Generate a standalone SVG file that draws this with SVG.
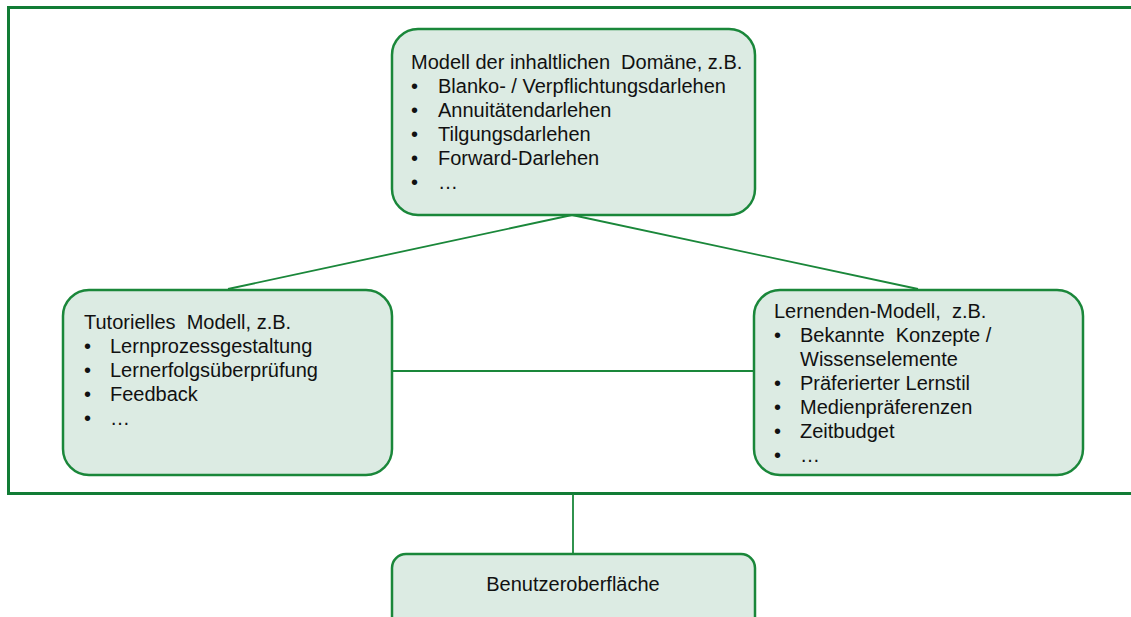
<svg xmlns="http://www.w3.org/2000/svg" width="1131" height="617" viewBox="0 0 1131 617">
  <style>
    .box { fill: #dcebe3; stroke: #1a873a; stroke-width: 2.5; }
    .frame { fill: none; stroke: #117c35; stroke-width: 3; }
    .link { fill: none; stroke: #1a873a; stroke-width: 1.8; }
    text { font-family: "Liberation Sans", Arial, sans-serif; font-size: 20px; fill: #111; white-space: pre; }
  </style>
  <rect width="1131" height="617" fill="#ffffff"/>
  <!-- outer system boundary (right edge runs past the canvas) -->
  <rect class="frame" x="8.5" y="7.5" width="1140" height="486"/>

  <g id="connectors">
    <line class="link" x1="572" y1="215" x2="228" y2="289"/>
    <line class="link" x1="572" y1="215" x2="918" y2="289"/>
    <line class="link" x1="392" y1="371" x2="754" y2="371"/>
    <line class="link" x1="573" y1="494" x2="573" y2="554"/>
  </g>

  <g id="domain-model">
    <rect class="box" x="392" y="29" width="363" height="186" rx="26"/>
    <text x="411" y="69">Modell der inhaltlichen  Domäne, z.B.</text>
    <text x="411" y="93">•</text><text x="438" y="93">Blanko- / Verpflichtungsdarlehen</text>
    <text x="411" y="117">•</text><text x="438" y="117">Annuitätendarlehen</text>
    <text x="411" y="141">•</text><text x="438" y="141">Tilgungsdarlehen</text>
    <text x="411" y="165">•</text><text x="438" y="165">Forward-Darlehen</text>
    <text x="411" y="189">•</text><text x="438" y="189">…</text>
  </g>

  <g id="tutorial-model">
    <rect class="box" x="63" y="290" width="329" height="185" rx="26"/>
    <text x="84" y="329">Tutorielles  Modell, z.B.</text>
    <text x="84" y="353">•</text><text x="110" y="353">Lernprozessgestaltung</text>
    <text x="84" y="377">•</text><text x="110" y="377">Lernerfolgsüberprüfung</text>
    <text x="84" y="401">•</text><text x="110" y="401">Feedback</text>
    <text x="84" y="425">•</text><text x="110" y="425">…</text>
  </g>

  <g id="learner-model">
    <rect class="box" x="754" y="290" width="329" height="185" rx="26"/>
    <text x="774" y="318">Lernenden-Modell,  z.B.</text>
    <text x="774" y="342">•</text><text x="800" y="342">Bekannte  Konzepte /</text>
    <text x="800" y="366">Wissenselemente</text>
    <text x="774" y="390">•</text><text x="800" y="390">Präferierter Lernstil</text>
    <text x="774" y="414">•</text><text x="800" y="414">Medienpräferenzen</text>
    <text x="774" y="438">•</text><text x="800" y="438">Zeitbudget</text>
    <text x="774" y="462">•</text><text x="800" y="462">…</text>
  </g>

  <g id="user-interface">
    <rect class="box" x="392" y="554" width="363" height="80" rx="14"/>
    <text x="573" y="591" text-anchor="middle" font-size="18.5">Benutzeroberfläche</text>
  </g>
</svg>
